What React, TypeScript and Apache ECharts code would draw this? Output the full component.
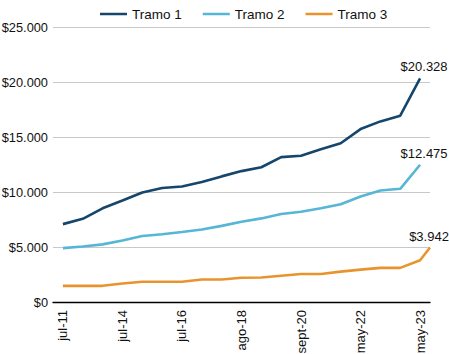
import React, { useEffect, useRef } from "react";
import * as echarts from "echarts";

const categories = [
  "jul-11", "jul-12", "jul-13", "jul-14", "mar-15", "nov-15", "jul-16",
  "mar-17", "nov-17", "ago-18", "abr-19", "dic-19", "sept-20", "mar-21",
  "oct-21", "may-22", "sept-22", "ene-23", "may-23",
];
const labelIndices = [0, 3, 6, 9, 12, 15, 18];

const tramo1 = [7080, 7560, 8520, 9220, 9950, 10360, 10500, 10900, 11420, 11900, 12250, 13170, 13300, 13880, 14430, 15720, 16420, 16940, 20328];
const tramo2 = [4900, 5050, 5240, 5600, 6000, 6160, 6370, 6590, 6920, 7290, 7600, 8000, 8200, 8520, 8890, 9590, 10140, 10290, 12475];
const tramo3 = [1470, 1470, 1470, 1680, 1840, 1840, 1840, 2050, 2050, 2200, 2230, 2390, 2540, 2540, 2760, 2940, 3100, 3100, 3800];
// orange line continues to the right edge of the plot in the reference
const tramo3Tail = [18.5, 4950];

const seriesNames = ["Tramo 1", "Tramo 2", "Tramo 3"];
const endLabels = ["$20.328", "$12.475", "$3.942"];
const colors = ["#16466b", "#56b6d6", "#e8942e"];

const FONT = "'Liberation Sans', Arial, sans-serif";

function fmtMoney(v: number) {
  const s = Math.round(v).toString().replace(/\B(?=(\d{3})+(?!\d))/g, ".");
  return "$" + s;
}

export default function App() {
  const ref = useRef<HTMLDivElement>(null);
  useEffect(() => {
    if (!ref.current) return;
    const chart = echarts.init(ref.current, undefined, { renderer: "svg" });
    const build = (vals: number[], idx: number, tail?: number[]) => {
      const pts: any[] = vals.map((v, i) => [i, v]);
      if (tail) pts.push(tail);
      const last = pts.length - 1;
      pts[last] = {
        value: pts[last],
        label: {
          show: true,
          position: "top",
          distance: 5,
          offset: [tail ? -1 : 4, 0],
          formatter: () => endLabels[idx],
          fontFamily: FONT,
          fontSize: 13,
          color: "#111",
        },
      };
      return pts;
    };
    const seriesData = [build(tramo1, 0), build(tramo2, 1), build(tramo3, 2, tramo3Tail)];
    chart.setOption({
      animation: false,
      textStyle: { fontFamily: FONT },
      legend: {
        top: 2,
        left: 95,
        icon: "rect",
        itemWidth: 27,
        itemHeight: 2.5,
        itemGap: 21,
        textStyle: { fontFamily: FONT, fontSize: 13.5, color: "#111" },
        data: seriesNames,
      },
      grid: { left: 53, right: 19, top: 27, bottom: 52, containLabel: false, outerBoundsMode: "none" },
      xAxis: {
        type: "value",
        min: -0.5,
        max: 18.5,
        splitLine: { show: false },
        axisTick: { show: false },
        axisLine: { show: true, lineStyle: { color: "#000", width: 1.3 } },
        axisLabel: {
          customValues: labelIndices,
          rotate: 90,
          margin: 8,
          fontFamily: FONT,
          fontSize: 13,
          color: "#111",
          formatter: (v: number) => categories[Math.round(v)] ?? "",
        },
      },
      yAxis: {
        type: "value",
        min: 0,
        max: 25000,
        interval: 5000,
        axisLine: { show: false },
        axisTick: { show: false },
        splitLine: { lineStyle: { color: "#c8c8c8", width: 1.2 } },
        axisLabel: {
          margin: 5,
          fontFamily: FONT,
          fontSize: 12.8,
          color: "#111",
          formatter: (v: number) => (v === 0 ? "$0" : fmtMoney(v)),
        },
      },
      series: seriesNames.map((name, i) => ({
        name,
        type: "line",
        data: seriesData[i],
        symbol: "circle",
        symbolSize: 0,
        showSymbol: true,
        color: colors[i],
        lineStyle: { width: 2.6, color: colors[i] },
        z: 3 - i,
      })),
    });
    return () => chart.dispose();
  }, []);
  return <div ref={ref} style={{ width: 449, height: 354, position: "absolute", left: 0, top: 0 }} />;
}
